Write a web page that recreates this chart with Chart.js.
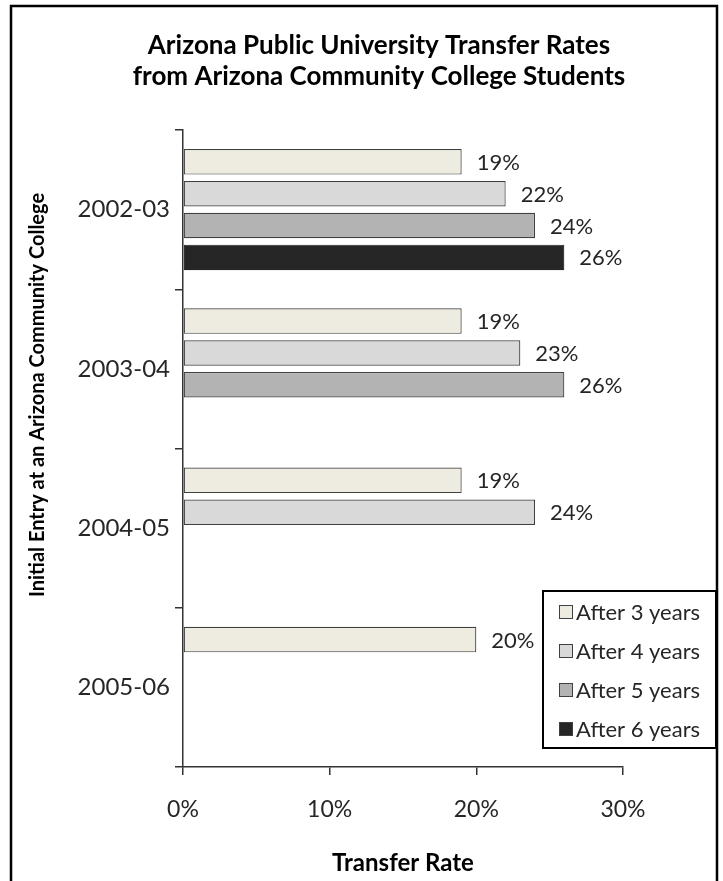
<!DOCTYPE html>
<html>
<head>
<meta charset="utf-8">
<script src="https://cdn.jsdelivr.net/npm/chart.js@4.4.1/dist/chart.umd.min.js"></script>
<style>
  html, body { margin: 0; padding: 0; background: #fff; }
  #chart { display: block; }
</style>
</head>
<body>
<canvas id="chart" width="723" height="881"></canvas>
<script>
var entryYears = ['2002-03', '2003-04', '2004-05', '2005-06'];
var seriesNames = ['After 3 years', 'After 4 years', 'After 5 years', 'After 6 years'];
var after3 = [19, 19, 19, 20];
var after4 = [22, 23, 24, null];
var after5 = [24, 26, null, null];
var after6 = [26, null, null, null];
var rateTicks = [0, 10, 20, 30];

var fills = ['#eeece1', '#d9d9d9', '#b3b3b3', '#262626'];
var FONT = 'Lato, "Noto Sans", sans-serif';

/* frame, title, y-axis title, value labels and legend drawn on the canvas */
var decorations = {
    id: 'decorations',
    afterDatasetsDraw: function(chart) {
        var c = chart.ctx;
        c.save();
        c.font = '22px ' + FONT;
        c.fillStyle = '#262626';
        c.textAlign = 'left';
        c.textBaseline = 'middle';
        chart.data.datasets.forEach(function(ds, i) {
            var meta = chart.getDatasetMeta(i);
            meta.data.forEach(function(bar, j) {
                var v = ds.data[j];
                if (v === null || v === undefined) return;
                c.fillText(v + '%', bar.x + 15, bar.y + 1);
            });
        });
        c.restore();
    },
    afterDraw: function(chart) {
        var c = chart.ctx;
        c.save();

        c.strokeStyle = '#000';
        c.lineWidth = 2.5;
        c.beginPath();
        c.moveTo(11, 881);
        c.lineTo(11, 6);
        c.lineTo(717, 6);
        c.lineTo(717, 881);
        c.stroke();

        c.fillStyle = '#000';
        c.font = 'bold 26px ' + FONT;
        c.textAlign = 'center';
        c.textBaseline = 'middle';
        c.fillText('Arizona Public University Transfer Rates', 379, 46);
        c.fillText('from Arizona Community College Students', 379, 77);

        c.font = 'bold 20px ' + FONT;
        c.save();
        c.translate(38, 395);
        c.rotate(-Math.PI / 2);
        c.fillText('Initial Entry at an Arizona Community College', 0, 0);
        c.restore();

        // legend
        var lx = 543, ly = 591, lw = 173, lh = 157;
        c.fillStyle = '#fff';
        c.fillRect(lx, ly, lw, lh);
        c.lineWidth = 2;
        c.strokeStyle = '#000';
        c.strokeRect(lx, ly, lw, lh);
        c.font = '22px ' + FONT;
        c.textAlign = 'left';
        seriesNames.forEach(function(name, i) {
            var cy = 612 + i * 39;
            c.fillStyle = fills[i];
            c.fillRect(559, cy - 7, 14, 14);
            c.lineWidth = 1;
            c.strokeStyle = '#404040';
            c.strokeRect(559.5, cy - 6.5, 13, 13);
            c.fillStyle = '#262626';
            c.fillText(name, 576, cy + 1);
        });
        c.restore();
    }
};

var datasets = [after3, after4, after5, after6].map(function(vals, i) {
    return {
        label: seriesNames[i],
        data: vals,
        backgroundColor: fills[i],
        borderColor: i === 3 ? '#262626' : '#404040',
        borderWidth: 1.2,
        borderSkipped: false,
        categoryPercentage: 0.8,
        barPercentage: 0.8
    };
});

new Chart(document.getElementById('chart'), {
    type: 'bar',
    data: { labels: entryYears, datasets: datasets },
    options: {
        indexAxis: 'y',
        responsive: false,
        animation: false,
        layout: { padding: { top: 130, right: 100, left: 0, bottom: 0 } },
        plugins: {
            legend: { display: false },
            title: { display: false },
            tooltip: { enabled: false }
        },
        scales: {
            y: {
                type: 'category',
                afterFit: function(scale) { scale.width = 183; },
                grid: { drawOnChartArea: false, drawTicks: true, tickLength: 8, color: '#333', lineWidth: 1.5, offset: true },
                border: { display: true, color: '#333', width: 1.5 },
                ticks: { color: '#262626', font: { family: FONT, size: 24 }, padding: 5 }
            },
            x: {
                type: 'linear',
                min: 0,
                max: 30,
                afterFit: function(scale) { scale.height = 114; },
                afterBuildTicks: function(scale) {
                    scale.ticks = rateTicks.map(function(v) { return { value: v }; });
                },
                grid: { drawOnChartArea: false, drawTicks: true, tickLength: 8, color: '#333', lineWidth: 1.5 },
                border: { display: true, color: '#333', width: 1.5 },
                ticks: {
                    color: '#262626',
                    font: { family: FONT, size: 23 },
                    padding: 21,
                    callback: function(v) { return v + '%'; }
                },
                title: {
                    display: true,
                    text: 'Transfer Rate',
                    color: '#000',
                    font: { family: FONT, size: 24, weight: 'bold' },
                    padding: { top: 0, bottom: 3 }
                }
            }
        }
    },
    plugins: [decorations]
});
</script>
</body>
</html>
